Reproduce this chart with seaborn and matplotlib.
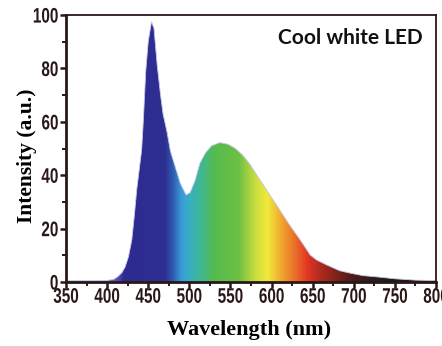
import numpy as np
import pandas as pd
import matplotlib
matplotlib.use("Agg")
import matplotlib.pyplot as plt
import seaborn as sns
from matplotlib.colors import LinearSegmentedColormap, Normalize
from matplotlib.ticker import MultipleLocator
from matplotlib.patheffects import AbstractPathEffect
from matplotlib.transforms import Affine2D

# ---- data ----
wavelength = [350, 380, 400, 408, 413, 418, 422, 426, 430, 433, 436, 439, 442, 444, 447,
              450, 454, 457, 461, 465, 468, 473, 477, 483, 489, 496, 501, 507, 513,
              520, 527, 537, 547, 556, 565, 574, 586, 598, 610, 622, 635, 647,
              655, 667, 683, 696, 711, 732, 750, 775, 800]
intensity = [0.5, 0.5, 0.6, 1.0, 2.0, 3.5, 5.7, 9.5, 15.7, 24.5, 34.5, 42, 49.4, 60, 79,
             90, 97.5, 95, 81, 70, 63, 56, 49, 43, 37, 32.6, 33.5, 38, 44.6,
             48.5, 51, 52.2, 51.6, 50, 47.5, 44, 38.2, 32.6, 27, 21.3, 15.7, 10.1,
             8.2, 6.4, 4.2, 3.3, 2.4, 1.8, 1.2, 0.7, 0.5]
x_ticks = [350, 400, 450, 500, 550, 600, 650, 700, 750, 800]
y_ticks = [0, 20, 40, 60, 80, 100]
x_label = "Wavelength (nm)"
y_label = "Intensity (a.u.)"
title_text = "Cool white LED"

# spectral colour stops (nm, colour)
stop_nm = [350, 410, 420, 470, 480, 490, 500, 515, 530, 560, 580, 595, 610, 630, 645, 660, 680, 700, 730, 800]
stop_col = ["#9ea2dc", "#5a58b8", "#2e2a90", "#2e2f92", "#2f5db0", "#3a9ad8", "#38b0c0",
            "#40b890", "#55bb50", "#6cc044", "#c8dc40", "#f2ea3a", "#f0b030", "#ea6a28",
            "#e03424", "#b02a20", "#7a2418", "#4a1a18", "#202020", "#101010"]


class Stretch(AbstractPathEffect):
    """Stretch glyphs vertically about mid-cap height (text stays real text)."""
    def __init__(self, sy=1.0, cy=36):
        super().__init__()
        self.pre = Affine2D().translate(0, -cy).scale(1.0, sy).translate(0, cy)

    def draw_path(self, renderer, gc, tpath, affine, rgbFace=None):
        renderer.draw_path(gc, tpath, self.pre + affine, rgbFace)


df = pd.DataFrame({"wavelength": wavelength, "intensity": intensity})

sns.set_theme(style="white")
fig = plt.figure(figsize=(4.42, 3.46), dpi=100)
ax = fig.add_axes([66 / 442, (346 - 282) / 346, 370 / 442, 267 / 346])

sns.lineplot(data=df, x="wavelength", y="intensity", ax=ax, color="#c8c8e8", lw=0.6)

poly = ax.fill_between(df["wavelength"], df["intensity"], 0, color="none", lw=0)
pos = [(n - 350) / 450 for n in stop_nm]
cmap = LinearSegmentedColormap.from_list("spec", list(zip(pos, stop_col)))
grad = np.linspace(350, 800, 900)[None, :]
im = ax.imshow(grad, extent=[350, 800, 0, 100], aspect="auto", cmap=cmap,
               norm=Normalize(350, 800), origin="lower", interpolation="bilinear", zorder=1)
im.set_clip_path(poly.get_paths()[0], transform=ax.transData)

ax.set_xlim(350, 800)
ax.set_ylim(0, 100)
ax.set_xticks(x_ticks)
ax.set_yticks(y_ticks)
ax.xaxis.set_minor_locator(MultipleLocator(25))
ax.yaxis.set_minor_locator(MultipleLocator(10))

tick_col = "#2a1818"
ax.tick_params(which="major", direction="out", length=4.5, width=1.8, color=tick_col,
               bottom=True, left=True, top=False, right=False)
ax.tick_params(axis="x", which="major", pad=1.0)
ax.tick_params(axis="y", which="major", pad=1.0)
ax.tick_params(which="minor", direction="out", length=3, width=1.4, color=tick_col,
               bottom=True, left=True, top=False, right=False)
stretch = Stretch(sy=1.38)
for lab in ax.get_xticklabels() + ax.get_yticklabels():
    lab.set_family("Liberation Sans")
    lab.set_weight("bold")
    lab.set_size(11)
    lab.set_color(tick_col)
    lab.set_path_effects([stretch])

for side in ["left", "bottom"]:
    ax.spines[side].set_linewidth(2.0)
    ax.spines[side].set_color(tick_col)
for side in ["top", "right"]:
    ax.spines[side].set_linewidth(1.3)
    ax.spines[side].set_color(tick_col)
    ax.spines[side].set_visible(True)

ax.set_xlabel(x_label, family="Liberation Serif", weight="bold", size=16, color="black")
ax.set_ylabel(y_label, family="Liberation Serif", weight="bold", size=15.5, color="black")
ax.xaxis.set_label_coords(0.4946, -0.1423)
ax.yaxis.set_label_coords(-0.078, 0.474)

ax.text(0.965, 0.95, title_text, transform=ax.transAxes, ha="right", va="top",
        family="Lato", weight="bold", size=15, color="#111111")

fig.savefig("out.png", dpi=100)
